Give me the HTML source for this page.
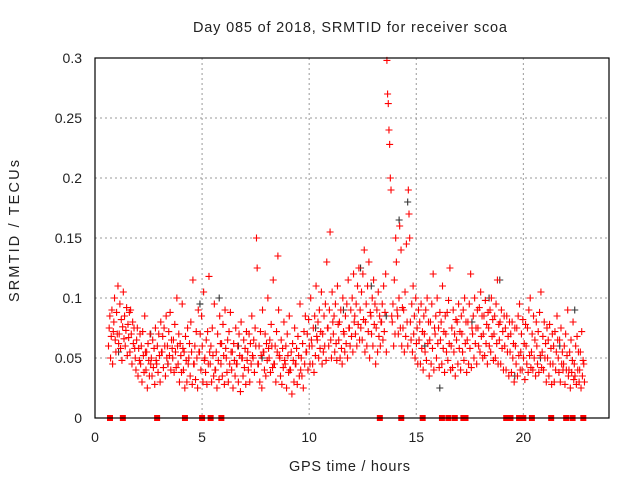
<!DOCTYPE html>
<html><head><meta charset="utf-8"><style>
body{margin:0;background:#fff;}
svg{display:block;font-family:"Liberation Sans",sans-serif;}
</style></head><body>
<svg id="chart" width="640" height="480" viewBox="0 0 640 480">
<text x="193" y="32" font-size="14.5" textLength="314" lengthAdjust="spacing" fill="#222">Day 085 of 2018, SRMTID for receiver scoa</text>
<text x="289" y="471" font-size="14.5" textLength="121" lengthAdjust="spacing" fill="#222">GPS time / hours</text>
<text transform="translate(19,302) rotate(-90)" font-size="14.5" textLength="142" lengthAdjust="spacing" fill="#222">SRMTID / TECUs</text>
<g id="grid"></g>
<g id="ticks"></g>
<g id="points"></g>
<rect x="95" y="58" width="514" height="360" fill="none" stroke="#000" stroke-width="1.2"/>
</svg>
<script>
const xTicks=[0,5,10,15,20];
const yTicks=[0,0.05,0.1,0.15,0.2,0.25,0.3];
const yTickLabels=["0","0.05","0.1","0.15","0.2","0.25","0.3"];
const binStart=0.75, binStep=0.25;
const redBins=[
[60,75,85,50,68,90,45,72],[80,100,65,55,88,70,110,62],[70,95,58,82,48,76,105,66],[85,60,73,92,52,78,67,88],[55,90,70,45,80,62,75,58],
[50,40,65,75,35,58,48,70],[45,60,30,72,52,38,85,55],[40,55,25,62,48,35,70,45],[50,35,65,42,58,28,75,48],[45,60,38,70,52,30,80,55],
[55,68,42,75,60,35,85,50],[60,45,72,52,88,40,65,58],[50,65,38,78,55,42,100,60],[45,70,30,62,52,38,95,58],[40,55,25,68,48,30,75,45],
[50,62,35,80,55,28,115,45],[45,60,32,72,50,25,90,55],[55,70,40,85,60,30,105,48],[50,38,65,28,72,45,118,55],[45,60,30,75,52,35,95,40],
[40,55,25,70,48,32,85,62],[45,62,35,78,52,28,90,58],[50,38,65,30,72,45,88,55],[40,55,25,62,48,35,75,45],[45,60,30,70,52,22,80,50],
[50,35,65,42,58,28,72,48],[55,40,70,30,62,45,85,52],[50,65,38,75,60,150,125,45],[45,60,30,72,52,25,90,55],[55,40,70,35,62,48,100,58],
[50,65,38,78,60,42,115,45],[45,60,30,72,55,135,90,52],[50,35,65,28,58,42,80,48],[45,60,25,70,52,38,85,40],[40,55,20,62,48,30,75,45],
[45,58,28,68,52,35,95,40],[50,35,62,25,72,45,85,55],[55,70,40,82,60,45,100,65],[60,45,75,38,85,52,110,68],[65,80,50,90,58,72,105,45],
[70,55,85,60,95,48,130,75],[75,60,90,155,65,50,105,80],[70,85,55,95,62,48,110,78],[65,80,50,90,58,45,100,72],[70,55,85,62,95,50,115,75],
[75,60,90,68,100,55,120,80],[85,70,95,60,110,78,125,65],[90,75,105,65,120,82,140,55],[80,95,60,110,72,130,50,88],[85,70,100,60,115,78,95,45],
[75,90,55,105,68,85,60,80],[80,95,65,110,72,88,120,55],[298,270,262,240,228,200,190,85],[80,95,60,115,70,150,130,90],[85,70,100,160,75,140,60,92],
[75,90,55,105,68,145,80,60],[190,170,150,80,65,95,55,110],[70,85,50,100,62,75,45,90],[65,80,45,95,58,72,40,85],[70,55,90,48,100,62,80,35],
[65,80,45,95,58,120,40,75],[70,85,50,100,62,75,42,88],[65,80,45,110,58,72,38,85],[70,55,88,48,98,62,125,40],[60,75,42,90,55,70,35,82],
[65,80,45,95,58,72,40,85],[70,55,90,48,100,62,80,38],[65,80,45,95,58,120,42,75],[70,85,50,100,62,75,45,90],[75,60,92,55,105,68,85,50],
[70,85,52,98,62,78,45,88],[75,60,90,55,100,68,82,48],[70,85,50,95,62,115,45,78],[65,80,45,90,58,72,40,85],[60,75,40,85,55,68,35,80],
[55,70,38,80,50,62,30,75],[60,45,75,35,85,52,95,40],[55,70,40,82,50,62,32,78],[60,45,75,38,90,52,100,42],[55,70,40,85,50,65,35,80],
[60,45,72,38,88,52,105,42],[55,68,40,80,50,62,30,75],[50,65,35,78,45,58,28,70],[45,60,30,72,40,55,85,65],[50,38,65,30,75,45,55,40],
[45,60,28,70,40,52,90,35],[40,55,25,65,38,48,80,32],[45,35,60,28,68,40,55,30],[40,55,25,72,35,48,45,30]
];
const darkTimes=[1.1,2.6,3.4,4.9,5.8,6.7,7.8,9.1,10.3,11.6,12.4,12.9,13.6,14.2,14.6,15.4,16.1,17.6,18.4,18.9,19.6,20.8,21.7,22.4];
const darkValues=[0.055,0.07,0.045,0.095,0.1,0.06,0.05,0.04,0.075,0.09,0.125,0.11,0.085,0.165,0.18,0.06,0.025,0.08,0.1,0.115,0.035,0.05,0.06,0.09];
const zeroTimes=[0.7,1.3,2.9,4.2,5.0,5.4,5.9,13.3,14.3,15.3,16.2,16.5,16.8,17.2,17.3,19.2,19.4,19.8,20.0,20.4,21.3,22.0,22.3,22.8];

const X=t=>95+t*(514/24);
const Y=v=>418-v*(360/0.3);
const NS="http://www.w3.org/2000/svg";
function mk(tag,attrs,parent){const e=document.createElementNS(NS,tag);for(const k in attrs)e.setAttribute(k,attrs[k]);parent.appendChild(e);return e;}
const grid=document.getElementById('grid'),ticks=document.getElementById('ticks'),pts=document.getElementById('points');
xTicks.forEach(t=>{
  if(t>0){const g=mk('line',{x1:X(t),x2:X(t),y1:58,y2:418,stroke:'#999','stroke-dasharray':'2,3'},grid);
  
  }
  const l=mk('text',{x:X(t),y:442,'font-size':14,'text-anchor':'middle',fill:'#222'},ticks);l.textContent=t;
  
  
});
yTicks.forEach((v,i)=>{
  if(v>0&&v<0.3){const g=mk('line',{x1:95,x2:609,y1:Y(v),y2:Y(v),stroke:'#999','stroke-dasharray':'2,3'},grid);
  
  }
  const l=mk('text',{x:82,y:Y(v)+5,'font-size':14,'text-anchor':'end',fill:'#222'},ticks);l.textContent=yTickLabels[i];
  
  
});
function plus(t,v,col){
  const x=X(t),y=Y(v);
  const p=mk('path',{d:`M${x-3.5},${y}h7M${x},${y-3.5}v7`,stroke:col,'stroke-width':1.1,fill:'none'},pts);
  
  
}
darkTimes.forEach((t,i)=>plus(t,darkValues[i],'#333'));
redBins.forEach((bin,b)=>{
  bin.forEach((v,i)=>plus(binStart+b*binStep-0.12+i*0.032,v/1000,'#f00'));
});
zeroTimes.forEach(t=>{
  const r=mk('rect',{x:X(t)-3,y:415,width:6,height:6,fill:'#f00'},pts);
  
  
});
</script>
</body></html>
